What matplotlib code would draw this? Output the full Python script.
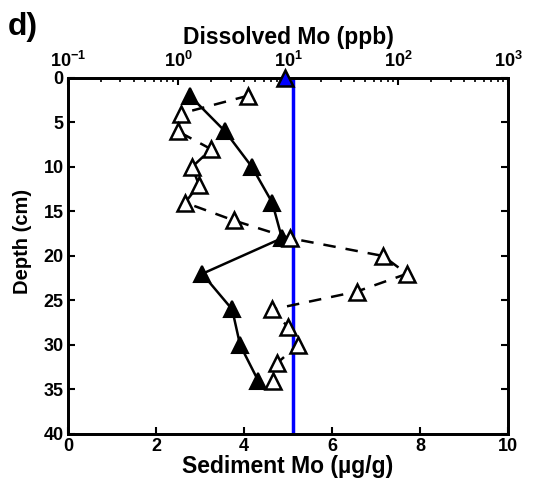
import matplotlib
matplotlib.use("Agg")
import matplotlib.pyplot as plt
from matplotlib.ticker import FixedLocator, LogLocator, NullFormatter

plt.rcParams['font.family'] = ['Liberation Sans', 'DejaVu Sans']
plt.rcParams['font.weight'] = 'bold'
plt.rcParams['mathtext.fontset'] = 'custom'
plt.rcParams['mathtext.rm'] = 'Liberation Sans:bold'
plt.rcParams['mathtext.bf'] = 'Liberation Sans:bold'
plt.rcParams['mathtext.default'] = 'bf'

# sediment Mo (ug/g), bottom axis
sed_depth = [2, 6, 10, 14, 18, 22, 26, 30, 34]
sed_mo = [2.77, 3.57, 4.18, 4.64, 4.86, 3.05, 3.73, 3.91, 4.32]

# dissolved Mo (ppb), top log axis
dis_depth = [2, 4, 6, 8, 10, 12, 14, 16, 18, 20, 22, 24, 26, 28, 30, 32, 34]
dis_mo = [4.3, 1.06, 1.0, 2.0, 1.34, 1.55, 1.16, 3.2, 10.4, 73, 120, 42,
          7.2, 10, 12.3, 8, 7.3]

# seawater value at the surface
sw_depth = [0]
sw_mo = [9.4]

crustal_mo = 5.1

fig = plt.figure(figsize=(5.35, 4.82), dpi=100)
ax = fig.add_axes([0.127, 0.0996, 0.823, 0.7386])
ax2 = ax.twiny()

ax.axvline(crustal_mo, color='blue', lw=2.5, zorder=1)
ax.plot(sed_mo, sed_depth, '-^', color='black', mfc='black', mec='black',
        ms=11, mew=1.5, lw=1.8, zorder=3)
ax.set_xlim(0, 10)
ax.set_ylim(40, 0)
ax.set_xticks([0, 2, 4, 6, 8, 10])
ax.set_yticks([0, 5, 10, 15, 20, 25, 30, 35, 40])
ax.tick_params(direction='in', width=1.5, length=5, labelsize=13,
               right=True, pad=3)
for lab in ax.get_xticklabels() + ax.get_yticklabels():
    lab.set_fontweight('bold')
ax.set_xlabel('Sediment Mo (µg/g)', fontsize=16.5, fontweight='bold', labelpad=0)
ax.set_ylabel('Depth (cm)', fontsize=14.5, fontweight='bold')
ax.yaxis.set_label_coords(-0.082, 0.54)

ax2.plot(dis_mo, dis_depth, '--^', color='black', mfc='white', mec='black',
         ms=11, mew=1.8, lw=1.8, dashes=(5, 4), zorder=3)
ax2.plot(sw_mo, sw_depth, '^', mfc='blue', mec='black', ms=11, mew=1.8,
         clip_on=False, zorder=5)
ax2.set_xscale('log')
ax2.set_xlim(0.1, 1000)
ax2.xaxis.set_major_locator(FixedLocator([0.1, 1, 10, 100, 1000]))
ax2.set_xticklabels([r'$10^{-1}$', r'$10^{0}$', r'$10^{1}$', r'$10^{2}$', r'$10^{3}$'])
ax2.xaxis.set_minor_locator(LogLocator(base=10, subs=range(2, 10)))
ax2.xaxis.set_minor_formatter(NullFormatter())
ax2.tick_params(which='major', direction='in', width=1.5, length=5,
                labelsize=13, pad=5)
ax2.tick_params(which='minor', direction='in', width=1.2, length=3)
ax2.set_xlabel('Dissolved Mo (ppb)', fontsize=16.5, fontweight='bold', labelpad=5)

for a in (ax, ax2):
    for s in a.spines.values():
        s.set_linewidth(2)

fig.text(0.015, 0.975, 'd)', fontsize=23, fontweight='bold', va='top')

fig.savefig('out.png', dpi=100)
